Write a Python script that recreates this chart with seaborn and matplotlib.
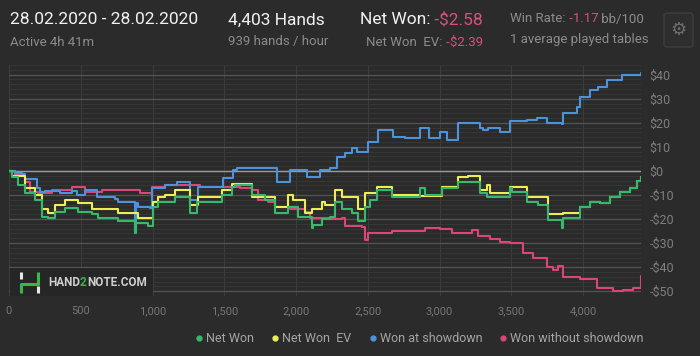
import numpy as np
import pandas as pd
import matplotlib
matplotlib.use("Agg")
import matplotlib.pyplot as plt
import seaborn as sns
from matplotlib.lines import Line2D
from matplotlib.patches import Rectangle, FancyBboxPatch
from matplotlib.transforms import IdentityTransform

# ---------------- data ----------------
series_names = ["Net Won", "Net Won  EV", "Won at showdown", "Won without showdown"]
series_colors = ["#35b96c", "#eded55", "#4b93db", "#d94677"]

showdown_hands = [0, 42, 90, 111, 181, 195, 216, 251, 355, 439, 474, 529, 599, 613, 738, 759, 871, 877, 884,
                  898, 982, 996, 1086, 1170, 1254, 1260, 1309, 1316, 1483, 1490, 1553, 1560, 1588, 1859, 1866,
                  1950, 1957, 2068, 2075, 2152, 2166, 2235, 2277, 2284, 2340, 2389, 2423, 2500, 2570, 2674,
                  2758, 2862, 2925, 3001, 3050, 3120, 3127, 3266, 3280, 3301, 3336, 3419, 3489, 3607, 3677,
                  3747, 3851, 3858, 3956, 3977, 4046, 4102, 4165, 4269, 4403]
showdown_won = [0, -1, -1.5, -3.5, -3.5, -7, -8.7, -8.5, -9, -8.5, -10, -8, -8, -11, -11.5, -13, -13, -25, -13.5,
                -15, -15.5, -7, -5.8, -4.6, -4.6, -12, -12, -6.6, -6.6, -3, -3, 0.4, 1.2, 1.2, -4.6,
                -4.6, 0.4, 0.4, -2.5, -2.5, 0.4, 1.2, 1.2, 5.8, 7.5, 9.5, 8, 12, 17, 14,
                13.5, 18, 13.7, 16, 13, 13, 20, 20, 18, 17, 17.8, 16, 20.7, 21, 22,
                20, 19.5, 24, 26.5, 30.7, 33.6, 35, 37.8, 40, 40.5]

noshow_hands = [0, 42, 111, 146, 202, 299, 439, 529, 648, 857, 912, 996, 1086, 1330, 1483, 1609, 1692, 1734,
                1804, 1852, 1957, 2061, 2096, 2235, 2319, 2340, 2458, 2479, 2500, 2667, 2897, 3001, 3085,
                3224, 3266, 3350, 3419, 3489, 3580, 3649, 3747, 3788, 3823, 3858, 3977, 4095, 4206, 4276,
                4346, 4403]
noshow_won = [0, -1.7, -4.6, -8.7, -9, -8, -6.6, -8.7, -8, -8, -9, -6.6, -6, -6.5, -6.5, -7, -8, -12,
              -13, -15, -16, -17, -19.5, -20, -19.5, -23, -23.5, -28.6, -26, -25, -23.7, -24, -26,
              -24.5, -27, -28.5, -29.5, -30, -34, -36, -40, -41, -39.5, -44, -45, -48.5, -50, -49.5,
              -48.5, -43.5]

net_hands = [0, 21, 63, 111, 181, 230, 272, 320, 390, 480, 578, 620, 759, 871, 877, 884, 968, 1003, 1038,
             1156, 1254, 1260, 1309, 1483, 1553, 1574, 1692, 1783, 1852, 1943, 2013, 2110, 2117, 2180,
             2235, 2270, 2319, 2389, 2430, 2479, 2514, 2563, 2667, 2862, 2897, 3015, 3127, 3280, 3329,
             3489, 3503, 3607, 3684, 3753, 3851, 3858, 3977, 4046, 4116, 4185, 4255, 4325, 4374, 4403]
net_won = [0, -2.5, -5.8, -9, -12, -19, -19.5, -17, -15.5, -17, -18, -19.5, -21, -21, -26, -21.5, -23, -15, -13,
           -11, -11, -17.5, -13, -10, -6.6, -6, -10, -12, -17.5, -15, -19, -23.7, -22.4, -20,
           -19, -13, -16, -17.5, -21, -15, -12, -8, -10.7, -7, -10, -7, -4.6, -9, -11,
           -7, -8.7, -13, -14, -20.5, -23.7, -19.5, -15, -13, -13.5, -10.7, -8.7, -7, -4, -2.6]

ev_hands = [0, 21, 111, 181, 230, 272, 320, 390, 480, 578, 759, 898, 1003, 1038, 1086, 1156, 1260, 1316,
            1483, 1553, 1692, 1852, 1943, 1978, 2061, 2110, 2180, 2200, 2270, 2319, 2430, 2479, 2563,
            2667, 2862, 3015, 3127, 3196, 3280, 3329, 3350, 3489, 3607, 3753, 3858, 3977, 4046, 4116,
            4185, 4255, 4325, 4374, 4403]
ev_won = [0, -2, -7, -10, -16, -17.5, -14, -12, -13.5, -16, -17.5, -19.5, -13, -11, -10, -8, -14, -11,
          -8, -5.5, -10.7, -15, -10, -12, -17.5, -16, -13, -14, -8, -11, -16, -9, -6.6,
          -10, -10.5, -6.6, -2.5, -2, -8, -6, -9, -6.6, -11, -18, -17.5, -15, -13, -13.5,
          -10.7, -8.7, -7, -4, -2.6]

y_ticks = [40, 30, 20, 10, 0, -10, -20, -30, -40, -50]
x_ticks = [0, 500, 1000, 1500, 2000, 2500, 3000, 3500, 4000]

# ---------------- style ----------------
BG = "#2b2b2b"
sns.set_style("dark")
plt.rcParams["font.family"] = ["Roboto", "DejaVu Sans"]

fig = plt.figure(figsize=(7, 3.56), dpi=100, facecolor=BG)
ax = fig.add_axes([9 / 700, 1 - 296 / 356, 632 / 700, 231 / 356])
ax.set_facecolor(BG)

frames = [
    (pd.DataFrame({"hands": noshow_hands, "won": noshow_won}), series_colors[3]),
    (pd.DataFrame({"hands": showdown_hands, "won": showdown_won}), series_colors[2]),
    (pd.DataFrame({"hands": ev_hands, "won": ev_won}), series_colors[1]),
    (pd.DataFrame({"hands": net_hands, "won": net_won}), series_colors[0]),
]
for i, (df, col) in enumerate(frames):
    sns.lineplot(data=df, x="hands", y="won", ax=ax, color=col, lw=1.5,
                 drawstyle="steps-post", sort=False, zorder=3 + i)

ax.axhline(0, color="#9a9a9a", lw=1.0, zorder=2)

ax.set_xlim(0, 4403)
ax.set_ylim(-51.9, 44.0)
ax.set_xticks(x_ticks)
ax.set_xticklabels([f"{v:,}" for v in x_ticks])
ax.set_yticks(y_ticks)
ax.set_yticklabels([f"${v}" if v >= 0 else f"-${-v}" for v in y_ticks])
ax.set_yticks(np.arange(-52, 45, 2), minor=True)
ax.yaxis.tick_right()
ax.tick_params(axis="y", which="both", length=0, pad=6, labelsize=9, labelcolor="#7f7f7f")
ax.tick_params(axis="x", which="both", length=0, pad=7, labelsize=8, labelcolor="#777777")
ax.grid(False)
ax.grid(True, axis="y", which="minor", color="#393939", lw=0.6, zorder=0)
ax.grid(True, axis="y", which="major", color="#545454", lw=0.9, zorder=0)
ax.grid(True, axis="x", which="major", color="#3c3c3c", lw=0.8, zorder=0)
ax.set_axisbelow(True)
for s in ax.spines.values():
    s.set_visible(False)
ax.set_xlabel("")
ax.set_ylabel("")

# ---------------- legend ----------------
handles = [Line2D([], [], marker="o", ls="", color=c, markersize=3.5) for c in series_colors]
fig.legend(handles, series_names, loc="center right", bbox_to_anchor=(655 / 700, 1 - 339 / 356),
           ncol=4, frameon=False, fontsize=9, labelcolor="#a5a5a5", handletextpad=0.05,
           columnspacing=1.2, handlelength=1.0)

# ---------------- header ----------------
renderer = fig.canvas.get_renderer()
ID = IdentityTransform()
H = 356


def parts(x, y, pieces, size, ha="left", weight="normal", zorder=3):
    objs = []
    for s, c in pieces:
        objs.append(fig.text(0, 0, s, color=c, fontsize=size, fontweight=weight,
                             va="center", ha="left", transform=ID, zorder=zorder))
    widths = [o.get_window_extent(renderer).width for o in objs]
    start = x if ha == "left" else x - sum(widths)
    for o, w in zip(objs, widths):
        o.set_position((start, H - y))
        start += w


WHITE = "#f2f2f2"
GREY = "#8c8c8c"
PINK = "#d9507e"
parts(10, 20, [("28.02.2020 - 28.02.2020", WHITE)], 12.5)
parts(10, 42, [("Active 4h 41m", GREY)], 9.5)
parts(228, 20, [("4,403 Hands", WHITE)], 12.5)
parts(228, 42, [("939 hands / hour", GREY)], 9.5)
parts(360, 20, [("Net Won:", WHITE), (" -$2.58", PINK)], 12.5)
parts(483, 42, [("Net Won  EV:", GREY), (" -$2.39", PINK)], 9.5, ha="right")
parts(510, 19, [("Win Rate:", GREY), (" -1.17", PINK), (" bb/100", GREY)], 9.5)
parts(510, 40, [("1 average played tables", GREY)], 9.5)

gear_box = FancyBboxPatch((664, H - 47), 29, 34, boxstyle="round,pad=0,rounding_size=3",
                          transform=ID, facecolor="#2e2e2e", edgecolor="#3e3e3e", lw=1)
fig.patches.append(gear_box)
fig.text(678.5, H - 30, "\u2699", transform=ID, ha="center", va="center", color="#6e6e6e",
         fontsize=13, family="DejaVu Sans")

# ---------------- watermark ----------------
wm = Rectangle((10, H - 296), 143, 28, transform=ID, facecolor="#262626", edgecolor="none", zorder=5)
fig.patches.append(wm)
GREEN = "#3db54a"
LOGO_W = "#e6e6e6"
for xs, ys, c in [
    ([21, 21], [272, 279], LOGO_W),
    ([21, 21, 38, 38], [293, 284, 284, 272], GREEN),
    ([38, 38], [286, 293], LOGO_W),
]:
    fig.lines.append(Line2D(xs, [H - v for v in ys], transform=ID, color=c, lw=2.2,
                            solid_capstyle="butt", zorder=6))
parts(48, 283, [("HAND", "#cfcfcf"), ("2", GREEN), ("NOTE.COM", "#cfcfcf")], 8.5, weight="bold",
      zorder=7)

fig.savefig("out.png", dpi=100, facecolor=BG)
